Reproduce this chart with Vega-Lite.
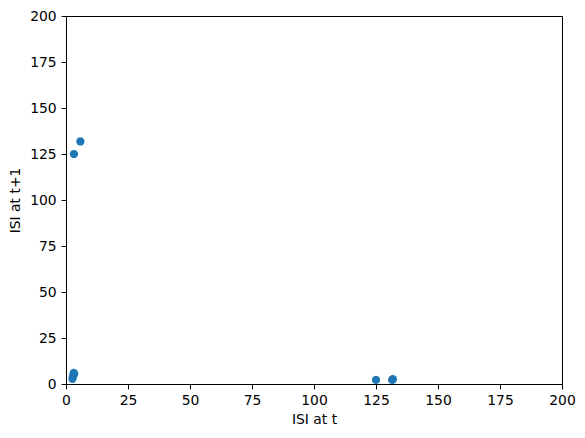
{
  "$schema": "https://vega.github.io/schema/vega-lite/v6.json",
  "width": 496,
  "height": 368,
  "autosize": {"type": "none"},
  "padding": {"left": 66, "top": 16, "right": 23, "bottom": 54},
  "background": "white",
  "config": {
    "view": {"stroke": "black", "strokeWidth": 1},
    "font": "DejaVu Sans",
    "axis": {
      "grid": false,
      "labelFlush": false,
      "labelOverlap": false,
      "domainColor": "black",
      "domainWidth": 1,
      "tickColor": "black",
      "tickWidth": 1,
      "tickSize": 4.9,
      "labelPadding": 4.9,
      "labelFontSize": 13.9,
      "labelColor": "black",
      "titleFontSize": 13.9,
      "titleFontWeight": "normal",
      "titleColor": "black",
      "labelFont": "DejaVu Sans",
      "titleFont": "DejaVu Sans"
    }
  },
  "data": {
    "values": [
      {"isi_t": 5.8, "isi_t1": 131.8},
      {"isi_t": 3.2, "isi_t1": 125.0},
      {"isi_t": 2.6, "isi_t1": 2.8},
      {"isi_t": 2.8, "isi_t1": 4.0},
      {"isi_t": 3.0, "isi_t1": 5.0},
      {"isi_t": 3.1, "isi_t1": 6.0},
      {"isi_t": 3.3, "isi_t1": 5.5},
      {"isi_t": 125.0, "isi_t1": 2.2},
      {"isi_t": 131.5, "isi_t1": 2.2},
      {"isi_t": 131.8, "isi_t1": 2.6}
    ]
  },
  "mark": {"type": "point", "filled": true, "opacity": 1, "size": 68, "color": "#1f77b4"},
  "encoding": {
    "x": {
      "field": "isi_t", "type": "quantitative",
      "scale": {"domain": [0, 200], "nice": false, "zero": false},
      "axis": {"values": [0, 25, 50, 75, 100, 125, 150, 175, 200], "title": "ISI at t", "titlePadding": 5}
    },
    "y": {
      "field": "isi_t1", "type": "quantitative",
      "scale": {"domain": [0, 200], "nice": false, "zero": false},
      "axis": {"values": [0, 25, 50, 75, 100, 125, 150, 175, 200], "title": "ISI at t+1", "titlePadding": 7}
    }
  }
}
